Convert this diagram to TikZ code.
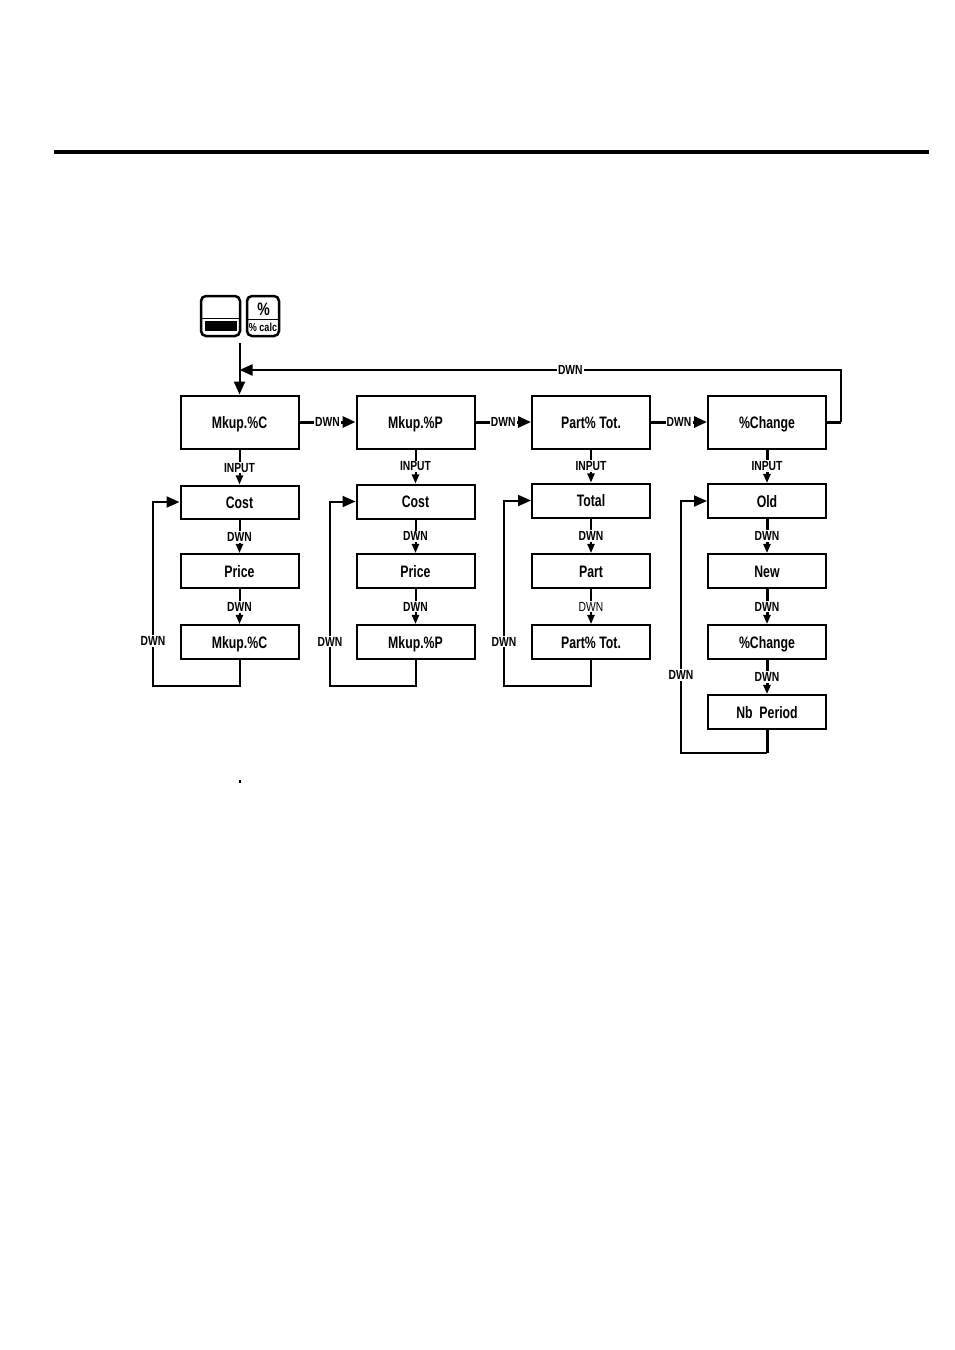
\documentclass[tikz,border=0pt]{standalone}
\usepackage{fontspec}
\usetikzlibrary{arrows.meta}
\newfontfamily\boxfont[FakeStretch=0.74]{Liberation Sans Bold}
\newfontfamily\lblfont[FakeStretch=0.78]{Liberation Sans Bold}
\newfontfamily\lblthin[FakeStretch=0.78]{Liberation Sans}
\tikzset{
  x=0.5pt,y=-0.5pt,
  st/.style={draw=black,line width=1pt,minimum width=59pt,inner sep=0pt,xshift=-0.25pt,yshift=0.25pt,text height=6pt,text depth=0pt,font=\boxfont\fontsize{8.3}{10}\selectfont,text=black,fill=white},
  big/.style={st,minimum height=26.5pt},
  small/.style={st,minimum height=17pt},
  con/.style={line width=1pt,draw=black},
  arr/.style={con,-{Triangle[length=4.6pt,width=3.6pt]}},
  harr/.style={con,-{Triangle[length=6.5pt,width=5.5pt]}},
  lbl/.style={font=\lblfont\fontsize{6.6}{8}\selectfont,fill=white,inner sep=0.6pt,text=black},
  thick4/.style={line width=1.5pt},
}
\begin{document}
\begin{tikzpicture}
\useasboundingbox[fill=white] (0,0) rectangle (954,1350);
% top rule
\coordinate (ruleL) at (54,152);
\coordinate (ruleR) at (929,152);
\draw[line width=2pt] (ruleL) -- (ruleR);
% keys
\draw[line width=1.25pt,rounded corners=2.5pt,fill=white] (201,296) rectangle (240,336);
\draw[line width=0.5pt] (202,318) -- (239,318);
\fill (205,321) rectangle (237,331);
\draw[line width=1.25pt,rounded corners=2.5pt,fill=white] (247,296) rectangle (279,336);
\draw[line width=0.5pt] (248,319) -- (278,319);
\node[inner sep=0pt,font=\lblfont\fontsize{9}{10}\selectfont] (pct) at (263.5,309) {\%};
\node[inner sep=0pt,font=\lblfont\fontsize{5.8}{8}\selectfont] (pcalc) at (263,327.5) {\% calc};
\coordinate (start) at (240,343);
\fill (239.4,780) rectangle (240.8,782.5);
% column 1
\node[big] (a0) at (240,422.5) {Mkup.\%C};
\node[small,minimum height=16.5pt] (a1) at (240,502.5) {Cost};
\node[small] (a2) at (240,571.5) {Price};
\node[small] (a3) at (240,642.5) {Mkup.\%C};
% column 2
\node[big] (b0) at (416,422.5) {Mkup.\%P};
\node[small] (b1) at (416,502) {Cost};
\node[small] (b2) at (416,571.5) {Price};
\node[small] (b3) at (416,642.5) {Mkup.\%P};
% column 3
\node[big] (c0) at (591.5,422.5) {Part\% Tot.};
\node[small] (c1) at (591.5,501) {Total};
\node[small] (c2) at (591.5,571.5) {Part};
\node[small] (c3) at (591.5,642.5) {Part\% Tot.};
% column 4
\node[big] (d0) at (767.5,422.5) {\%Change};
\node[small] (d1) at (767.5,501.5) {Old};
\node[small] (d2) at (767.5,571.5) {New};
\node[small] (d3) at (767.5,642.5) {\%Change};
\node[small] (d4) at (767.5,712.5) {Nb~~Period};
% entry
\draw[harr] (start -| a0.north) -- (a0.north);
% horizontals
\draw[harr,line width=1.5pt] (a0) -- node[lbl,pos=.5]{DWN} (b0);
\draw[harr,line width=1.5pt] (b0) -- node[lbl,pos=.5]{DWN} (c0);
\draw[harr,line width=1.5pt] (c0) -- node[lbl,pos=.5]{DWN} (d0);
% return
\coordinate (retC) at (841,370);
\coordinate (retL) at (240,370);
\draw[con,line width=1.5pt] (d0.east) -- (d0.east -| retC);
\draw[harr] (d0.east -| retC) -- (retC) -- node[lbl,pos=.45]{DWN} (retL -| a0.north);
% verticals
\draw[arr] (a0) -- node[lbl,yshift=-0.3pt]{INPUT} (a1);
\draw[arr] (a1) -- node[lbl,yshift=-0.3pt]{DWN} (a2);
\draw[arr] (a2) -- node[lbl,yshift=-0.3pt]{DWN} (a3);
\draw[arr] (b0) -- node[lbl]{INPUT} (b1);
\draw[arr] (b1) -- node[lbl]{DWN} (b2);
\draw[arr] (b2) -- node[lbl]{DWN} (b3);
\draw[arr] (c0) -- node[lbl]{INPUT} (c1);
\draw[arr] (c1) -- node[lbl]{DWN} (c2);
\draw[arr] (c2) -- node[lbl,font=\lblthin\fontsize{6.6}{8}\selectfont]{DWN} (c3);
\draw[arr,thick4] (d0) -- node[lbl]{INPUT} (d1);
\draw[arr,thick4] (d1) -- node[lbl]{DWN} (d2);
\draw[arr,thick4] (d2) -- node[lbl]{DWN} (d3);
\draw[arr,thick4] (d3) -- node[lbl]{DWN} (d4);
% loops
\coordinate (la) at (153,686);
\coordinate (lb) at (330,686);
\coordinate (lc) at (504,686);
\coordinate (ld) at (681,753);
\draw[harr] (a3.south) -- (a3.south |- la) -- (la) -- node[lbl,pos=.245]{DWN} (la |- a1.west) -- (a1.west);
\draw[harr] (b3.south) -- (b3.south |- lb) -- (lb) -- node[lbl,pos=.24]{DWN} (lb |- b1.west) -- (b1.west);
\draw[harr] (c3.south) -- (c3.south |- lc) -- (lc) -- node[lbl,pos=.24]{DWN} (lc |- c1.west) -- (c1.west);
\draw[con,thick4] (d4.south) -- (d4.south |- ld);
\draw[harr] (d4.south |- ld) -- (ld) -- node[lbl,pos=.31]{DWN} (ld |- d1.west) -- (d1.west);
\end{tikzpicture}
\end{document}
